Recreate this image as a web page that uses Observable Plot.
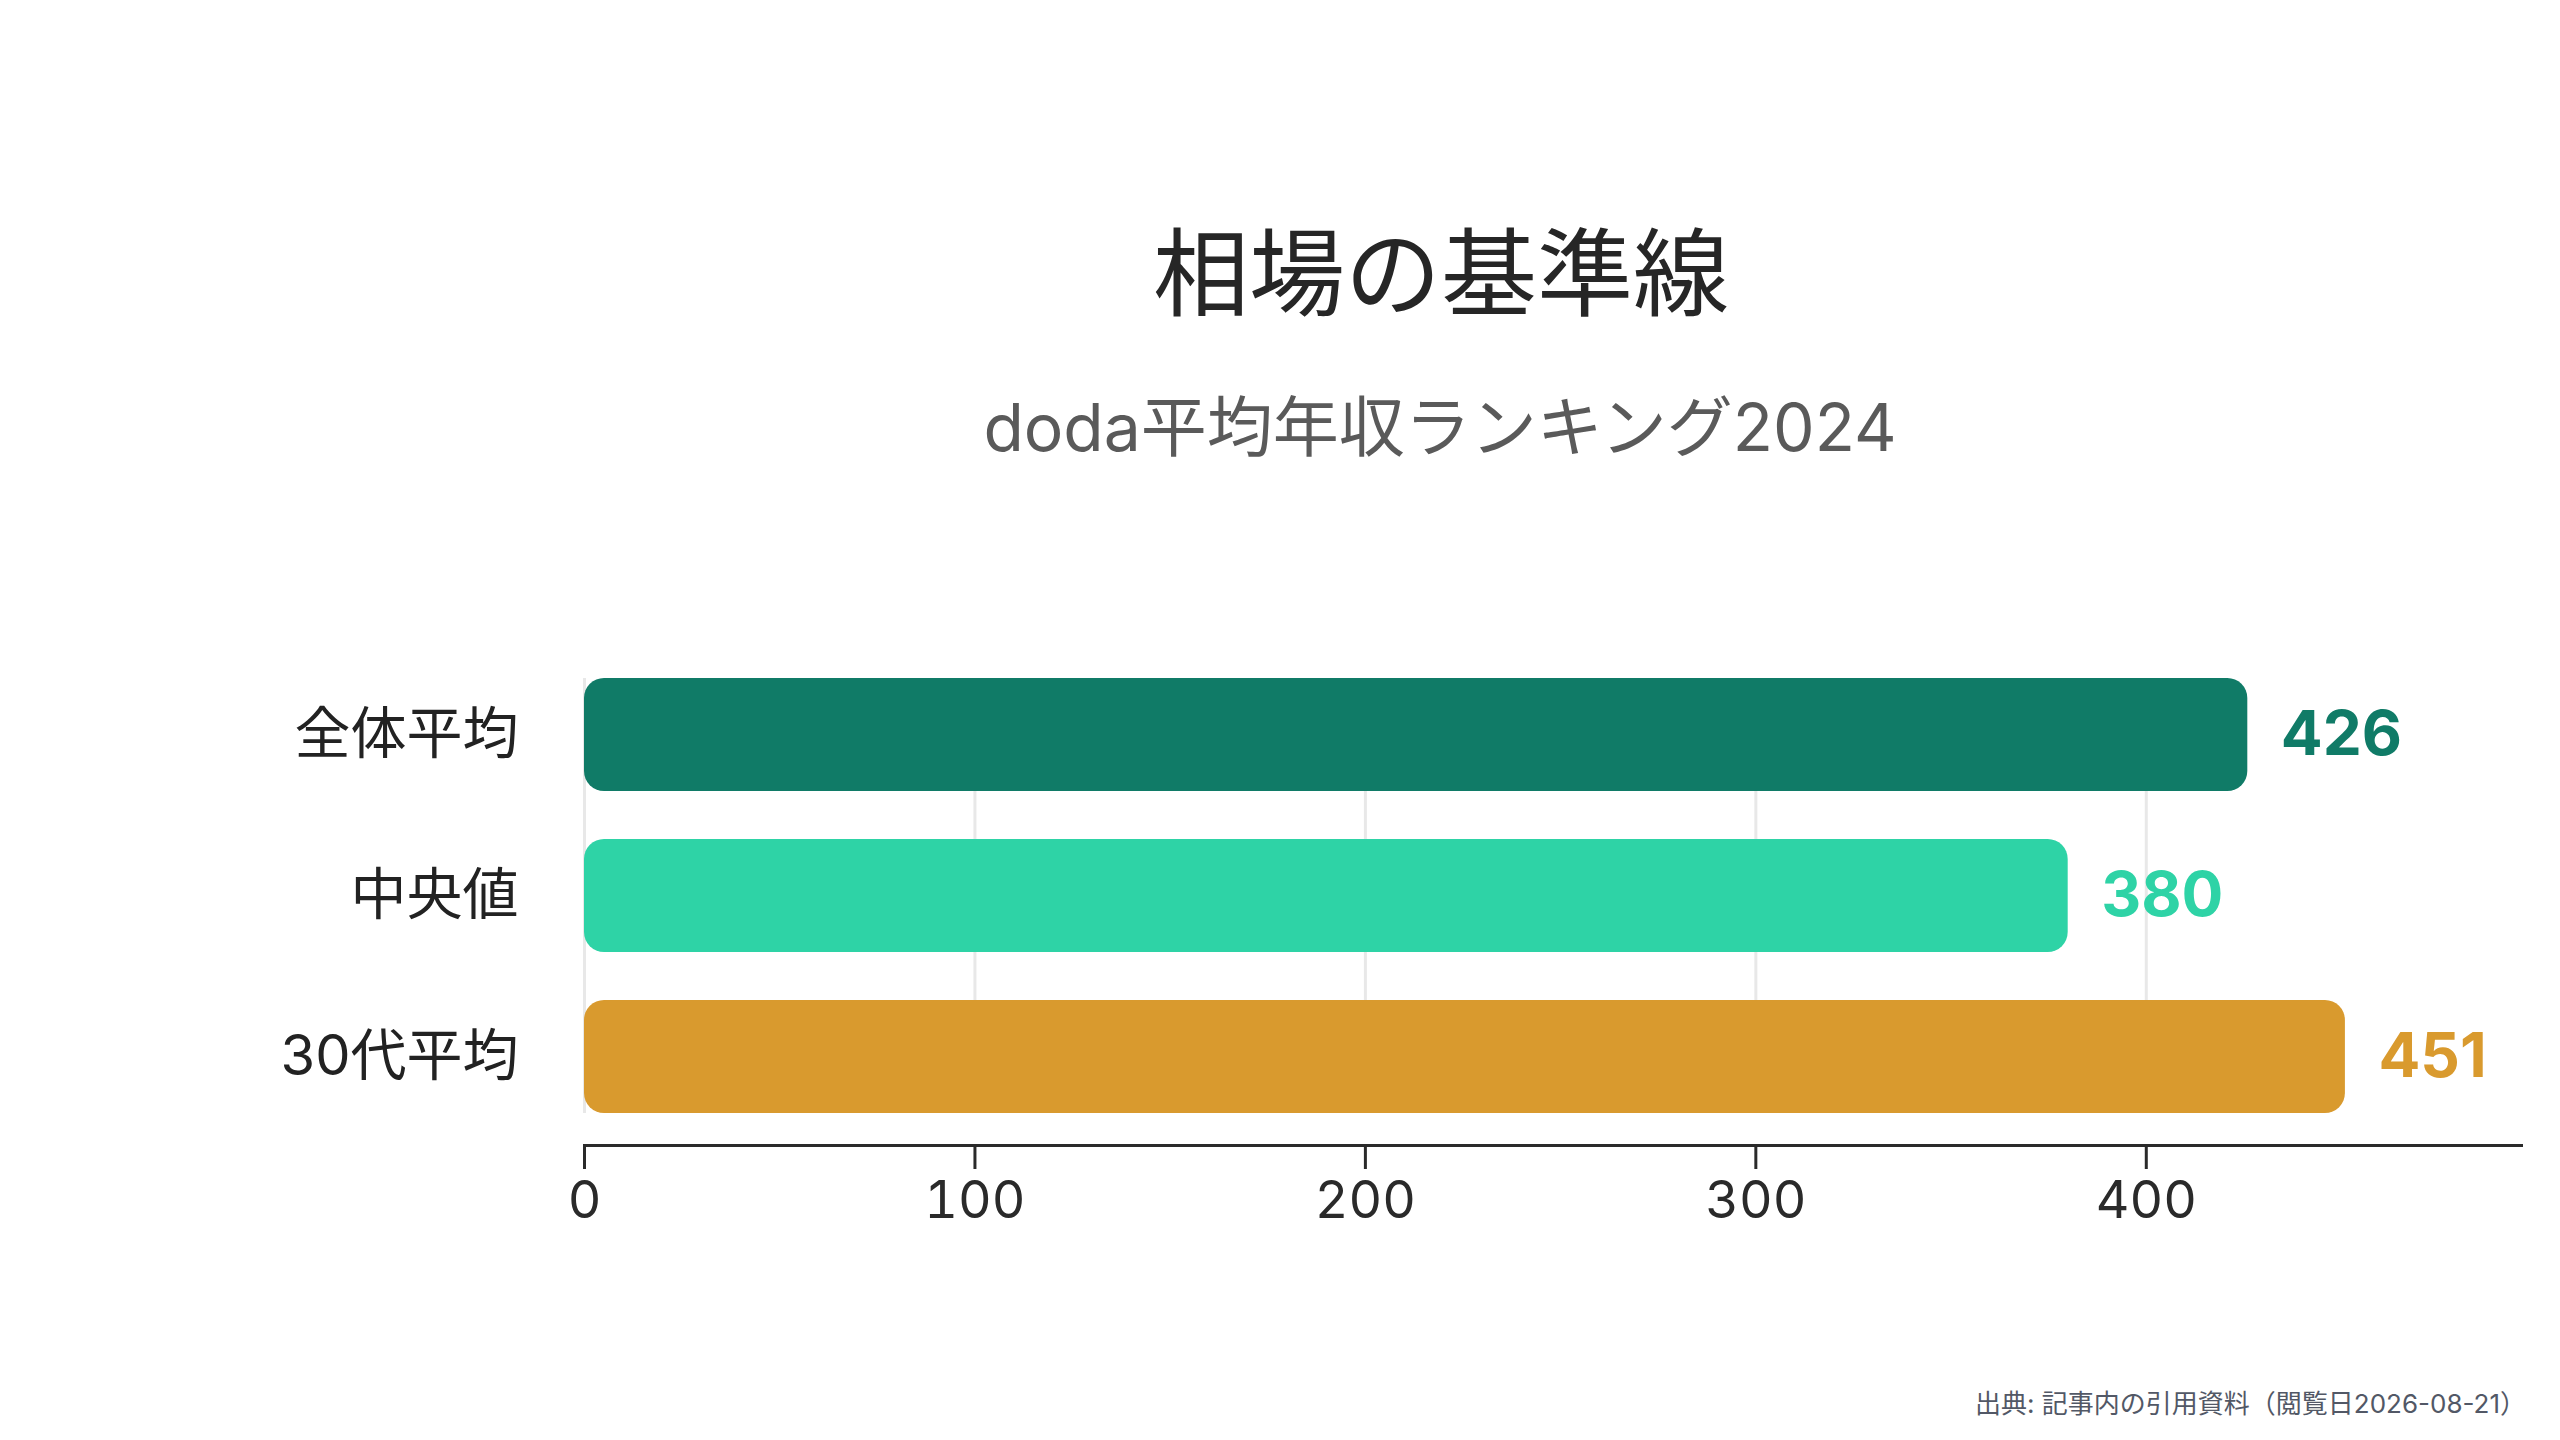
<!DOCTYPE html>
<html>
<head>
<meta charset="utf-8">
<script src="https://cdn.jsdelivr.net/npm/d3@7"></script>
<script src="https://cdn.jsdelivr.net/npm/@observablehq/plot@0.6"></script>
<style>
  html, body { margin: 0; padding: 0; background: #ffffff; }
  #page { position: relative; width: 2560px; height: 1440px; overflow: hidden; background: #ffffff;
          font-family: Inter, "Noto Sans CJK JP", sans-serif; }
  #title { position: absolute; left: 441px; width: 2000px; top: 225px; text-align: center;
           font-size: 96px; line-height: 96px; color: #262626; font-weight: 400; }
  #subtitle { position: absolute; left: 440px; width: 2000px; top: 394px; text-align: center;
              font-size: 66px; line-height: 66px; color: #5a5a5a; font-weight: 400; }
  #chart { position: absolute; left: 0; top: 600px; }
  #caption { position: absolute; right: 34px; top: 1391px; font-size: 26px; line-height: 26px;
             color: #525866; white-space: nowrap; }
</style>
</head>
<body>
<div id="page">
  <div id="title">相場の基準線</div>
  <div id="subtitle">doda平均年収ランキング2024</div>
  <div id="chart"></div>
  <div id="caption">出典: 記事内の引用資料（閲覧日2026-08-21）</div>
</div>
<script>
const categories = ["全体平均", "中央値", "30代平均"];
const values = [426, 380, 451];
const barColors = ["#107B67", "#2ED3A6", "#D99A2E"];
const xTicks = [0, 100, 200, 300, 400];

const table = categories.map((c, i) => ({category: c, value: values[i]}));

const chart = Plot.plot({
  width: 2560,
  height: 700,
  marginLeft: 584,
  marginRight: 39,
  marginTop: 78,
  marginBottom: 155,
  style: {fontFamily: 'Inter, "Noto Sans CJK JP", sans-serif', background: "#ffffff", overflow: "visible"},
  x: {domain: [0, d3.max(values) * 1.1], label: null},
  y: {domain: categories, paddingInner: 0.3, paddingOuter: 0, insetBottom: 32, label: null},
  color: {domain: categories, range: barColors},
  marks: [
    Plot.gridX({ticks: xTicks, stroke: "#e8e8e8", strokeOpacity: 1, strokeWidth: 3, insetBottom: 32}),
    Plot.barX(table, {x: "value", y: "category", fill: "category", rx: 20}),
    Plot.text(table, {x: "value", y: "category", text: d => String(d.value), fill: "category",
      dx: 33, textAnchor: "start", fontSize: 62, fontWeight: 700}),
    Plot.axisY({tickSize: 0, tickPadding: 66, fontSize: 56, color: "#222222", label: null}),
    Plot.axisX({ticks: xTicks, tickSize: 24, tickPadding: 12, fontSize: 52, color: "#2a2a2a",
      strokeWidth: 3, label: null}),
    Plot.frame({anchor: "bottom", stroke: "#2a2a2a", strokeWidth: 3})
  ]
});
document.getElementById("chart").appendChild(chart);
</script>
</body>
</html>
